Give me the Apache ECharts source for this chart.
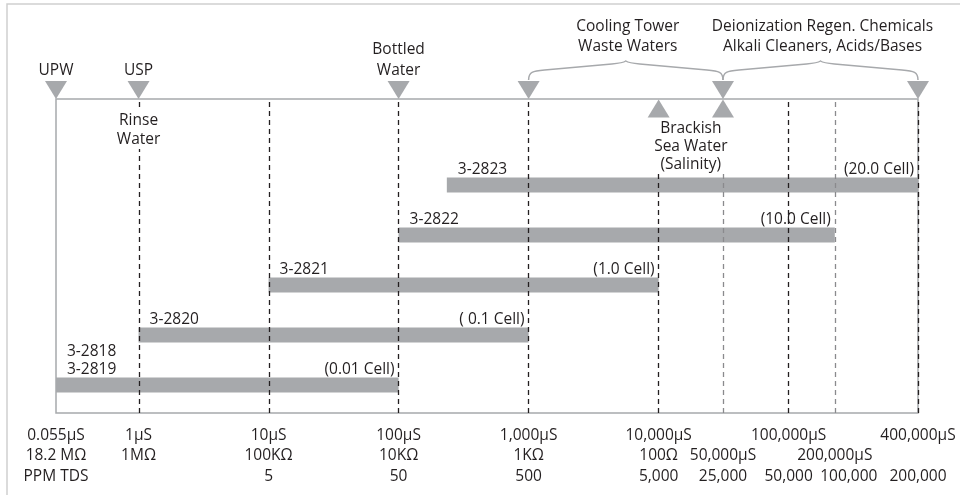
<!DOCTYPE html>
<html>
<head>
<meta charset="utf-8">
<script src="https://cdn.jsdelivr.net/npm/echarts@6/dist/echarts.min.js"></script>
<style>
html, body { margin: 0; padding: 0; background: #fff; }
#chart { width: 960px; height: 495px; }
</style>
</head>
<body>
<div id="chart"></div>
<script>
// the conductivity axis is schematic: each stop (µS) sits at a fixed place, in decade units
var scaleUS = [0.055, 1, 10, 100, 1000, 10000, 50000, 100000, 200000, 400000];
var scalePos = [0, 0.635, 1.635, 2.635, 3.635, 4.635, 5.13, 5.635, 5.99, 6.63];

// tick labels under the chart
var tickUS = [0.055, 1, 10, 100, 1000, 10000, 50000, 100000, 200000, 400000];
var condLabels = ['0.055µS', '1µS', '10µS', '100µS', '1,000µS', '10,000µS', '50,000µS', '100,000µS', '200,000µS', '400,000µS'];
var resLabels = ['18.2 MΩ', '1MΩ', '100KΩ', '10KΩ', '1KΩ', '100Ω', '', '', '', ''];
var tdsLabels = ['PPM TDS', '', '5', '50', '500', '5,000', '25,000', '50,000', '100,000', '200,000'];
var condOnSecondRow = [50000, 200000];

// dashed guide lines
var guideUS = [1, 10, 100, 1000, 10000, 50000, 100000, 200000, 400000];
var lightGuideUS = [50000, 200000];

// sensor ranges
var sensorNames = ['3-2818\n3-2819', '3-2820', '3-2821', '3-2822', '3-2823'];
var cellLabels = ['(0.01 Cell)', '( 0.1 Cell)', '(1.0 Cell)', '(10.0 Cell)', '(20.0 Cell)'];
var rangeLow = [0.055, 1, 10, 100, 235];
var rangeHigh = [100, 1000, 10000, 200000, 400000];

// markers on the top edge
var dropUS = [0.055, 1, 100, 1000, 50000, 400000];
var dropLabels = ['UPW', 'USP', 'Bottled\nWater', '', '', ''];
var riseUS = [10000, 50000];

// bracketed groups above the chart
var braceFrom = [1000, 50000];
var braceTo = [50000, 400000];
var braceLabels = ['Cooling Tower\nWaste Waters', 'Deionization Regen. Chemicals\nAlkali Cleaners, Acids/Bases'];

// notes inside the frame
var noteFrom = [1, 10000];
var noteTo = [1, 50000];
var noteLabels = ['Rinse\nWater', 'Brackish\nSea Water\n(Salinity)'];

var TEXT = '#231f20';
var GRAY = '#a7a9ac';
var FONT = '"Open Sans"';
var SIZE = 15.5;

function pos(v) {
  var lv = Math.log10(v);
  for (var i = 0; i < scaleUS.length - 1; i++) {
    var a = Math.log10(scaleUS[i]), b = Math.log10(scaleUS[i + 1]);
    if (lv <= b || i === scaleUS.length - 2) {
      return scalePos[i] + (lv - a) / (b - a) * (scalePos[i + 1] - scalePos[i]);
    }
  }
}

var tickPos = tickUS.map(pos);
var xMax = scalePos[scalePos.length - 1];

function tickLabel(val) {
  var i = 0, best = Infinity;
  tickPos.forEach(function (p, k) {
    if (Math.abs(p - val) < best) { best = Math.abs(p - val); i = k; }
  });
  var rows;
  if (condOnSecondRow.indexOf(tickUS[i]) >= 0) {
    // the TDS figure of the 200,000µS column sits a bit to the right
    var tds = tickUS[i] === 200000 ? '{shift|' + tdsLabels[i] + '}' : tdsLabels[i];
    rows = [' ', condLabels[i], tds || ' '];
  } else {
    rows = [condLabels[i], resLabels[i] || ' ', tdsLabels[i] || ' '];
  }
  return rows.join('\n');
}

var chart = echarts.init(document.getElementById('chart'));

chart.setOption({
  animation: false,
  textStyle: { fontFamily: FONT },
  graphic: [{
    type: 'rect',
    x: 7, y: 4,
    shape: { width: 1200, height: 800 },
    style: { fill: 'none', stroke: '#cfcfcf', lineWidth: 1.5 },
    silent: true
  }],
  grid: [
    { left: 56, right: 42, top: 99, bottom: 82, show: true, borderColor: GRAY, borderWidth: 1.5, backgroundColor: 'transparent' },
    { left: 56, right: 42, top: 160, bottom: 85 }
  ],
  xAxis: [{
    gridIndex: 0, type: 'value', min: 0, max: xMax,
    axisLine: { show: false }, axisTick: { show: false }, splitLine: { show: false },
    axisLabel: {
      customValues: tickPos,
      formatter: tickLabel,
      color: TEXT, fontSize: SIZE, lineHeight: 20.5, margin: 12,
      fontFamily: FONT, align: 'center',
      rich: {
        shift: { fontSize: SIZE, lineHeight: 20.5, color: TEXT, fontFamily: FONT, padding: [0, 0, 0, 28] }
      }
    }
  }, {
    gridIndex: 1, type: 'value', min: 0, max: xMax, show: false
  }],
  yAxis: [{
    gridIndex: 0, type: 'value', min: 0, max: 1, show: false
  }, {
    gridIndex: 1, type: 'category', data: sensorNames, show: false
  }],
  series: [{
    // down-pointing markers with their labels, plus the dashed guides
    type: 'scatter',
    xAxisIndex: 0, yAxisIndex: 0,
    clip: false,
    z: 5,
    symbol: 'path://M0,0 L22,0 L11,18 Z',
    symbolSize: [22, 18],
    symbolOffset: [0, -9],
    itemStyle: { color: GRAY, opacity: 1 },
    label: {
      show: true, position: 'top', distance: 0,
      formatter: '{b}', color: TEXT, fontSize: SIZE, lineHeight: 21, fontFamily: FONT
    },
    data: dropUS.map(function (v, i) { return { name: dropLabels[i], value: [pos(v), 1] }; }),
    markLine: {
      silent: true, symbol: 'none', animation: false,
      label: { show: false },
      data: guideUS.map(function (v) {
        var light = lightGuideUS.indexOf(v) >= 0;
        return {
          xAxis: pos(v),
          lineStyle: { color: light ? '#8a8a8d' : TEXT, width: 1.3, type: [5, 4] }
        };
      })
    }
  }, {
    type: 'scatter',
    xAxisIndex: 0, yAxisIndex: 0,
    clip: false,
    z: 5,
    symbol: 'path://M11,0 L22,18 L0,18 Z',
    symbolSize: [22, 18],
    symbolOffset: [0, 9.5],
    itemStyle: { color: GRAY, opacity: 1 },
    data: riseUS.map(function (v) { return [pos(v), 1]; })
  }, {
    // sensor ranges
    type: 'custom',
    xAxisIndex: 1, yAxisIndex: 1,
    z: 3,
    clip: false,
    encode: { x: [0, 1], y: 2 },
    data: sensorNames.map(function (n, i) { return [pos(rangeLow[i]), pos(rangeHigh[i]), i]; }),
    renderItem: function (params, api) {
      var i = params.dataIndex;
      var p0 = api.coord([api.value(0), api.value(2)]);
      var p1 = api.coord([api.value(1), api.value(2)]);
      var h = 15;
      var top = p0[1] - h / 2;
      return {
        type: 'group',
        children: [{
          type: 'rect',
          shape: { x: p0[0], y: top, width: p1[0] - p0[0], height: h },
          style: { fill: GRAY }
        }, {
          type: 'text',
          x: p0[0] + 11, y: top + 1,
          style: {
            text: sensorNames[i], fill: TEXT, font: SIZE + 'px ' + FONT,
            lineHeight: 18, align: 'left', verticalAlign: 'bottom'
          }
        }, {
          type: 'text',
          x: p1[0] - 4, y: top + 1,
          style: {
            text: cellLabels[i], fill: TEXT, font: SIZE + 'px ' + FONT,
            lineHeight: 18, align: 'right', verticalAlign: 'bottom'
          }
        }]
      };
    }
  }, {
    // braces with group names
    type: 'custom',
    xAxisIndex: 0, yAxisIndex: 0,
    clip: false,
    z: 4,
    data: braceFrom.map(function (v, i) { return [pos(v), pos(braceTo[i]), i]; }),
    renderItem: function (params, api) {
      var i = params.dataIndex;
      var x1 = api.coord([api.value(0), 1])[0];
      var x2 = api.coord([api.value(1), 1])[0];
      var top = params.coordSys.y;
      var xm = (x1 + x2) / 2;
      var yE = top - 19, yP = top - 38;
      var d = 'M' + x1 + ',' + yE +
        ' C' + x1 + ',' + (yE - 8) + ' ' + (x1 + 4) + ',' + (yE - 9) + ' ' + (x1 + 16) + ',' + (yE - 10) +
        ' L' + (xm - 14) + ',' + (yP + 3) +
        ' Q' + (xm - 3) + ',' + (yP + 2) + ' ' + xm + ',' + yP +
        ' Q' + (xm + 3) + ',' + (yP + 2) + ' ' + (xm + 14) + ',' + (yP + 3) +
        ' L' + (x2 - 16) + ',' + (yE - 10) +
        ' C' + (x2 - 4) + ',' + (yE - 9) + ' ' + x2 + ',' + (yE - 8) + ' ' + x2 + ',' + yE;
      return {
        type: 'group',
        children: [{
          type: 'path',
          shape: { pathData: d },
          style: { fill: 'none', stroke: GRAY, lineWidth: 1.5 }
        }, {
          type: 'text',
          x: xm + 2, y: top - 42,
          style: {
            text: braceLabels[i], fill: TEXT, font: SIZE + 'px ' + FONT,
            lineHeight: 20, align: 'center', verticalAlign: 'bottom'
          }
        }]
      };
    }
  }, {
    // notes just under the top edge, drawn over the dashed guides
    type: 'custom',
    xAxisIndex: 0, yAxisIndex: 0,
    clip: false,
    z: 6,
    data: noteFrom.map(function (v, i) { return [pos(v), pos(noteTo[i]), i]; }),
    renderItem: function (params, api) {
      var i = params.dataIndex;
      var x1 = api.coord([api.value(0), 1])[0];
      var x2 = api.coord([api.value(1), 1])[0];
      var top = params.coordSys.y;
      var single = x1 === x2;
      return {
        type: 'text',
        x: (x1 + x2) / 2, y: top + (single ? 12 : 21),
        style: {
          text: noteLabels[i], fill: TEXT, font: SIZE + 'px ' + FONT,
          lineHeight: single ? 19 : 18, align: 'center', verticalAlign: 'top',
          backgroundColor: '#fff', padding: single ? [0, 2] : [0, 0, -4, 0]
        }
      };
    }
  }]
});
</script>
</body>
</html>
